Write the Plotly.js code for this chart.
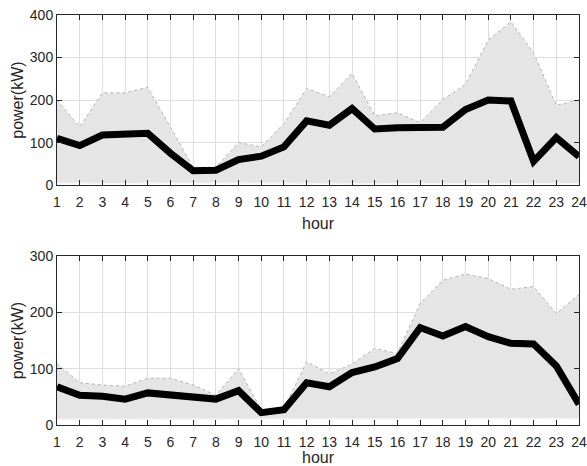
<!DOCTYPE html>
<html><head><meta charset="utf-8">
<script src="https://cdn.plot.ly/plotly-3.0.1.min.js"></script>
<style>html,body{margin:0;padding:0;background:#fff}#c{width:587px;height:466px}</style>
</head><body><div id="c"></div>
<script>
const hours = [1,2,3,4,5,6,7,8,9,10,11,12,13,14,15,16,17,18,19,20,21,22,23,24];
const tickLabels = hours.map(String);
// top panel
const upper1 = [200,137,217,217,230,135,42,42,100,90,145,227,208,263,163,170,147,201,237,341,384,311,188,200];
const lower1 = [5,4,4,4,5,5,5,5,4,4,4,4,4,3,4,4,4,4,5,5,5,5,5,4];
const mean1  = [110,93,118,122,122,75,34,35,60,68,90,151,141,180,132,135,135,136,178,200,198,56,112,67];
// bottom panel
const upper2 = [109,75,71,69,83,83,71,53,100,27,30,112,91,108,136,127,216,257,268,260,241,246,198,232];
const lower2 = [10,10,10,10,11,11,10,10,10,10,10,10,10,10,10,10,10,10,11,12,12,12,11,11];
const mean2  = [68,53,51,46,57,54,49,46,61,22,27,75,68,93,103,118,173,158,175,157,145,144,105,37];

const band = 'rgba(229,229,229,1)';
const upEdge = {color:'#b4b4b4', width:1, dash:'dot'};
const loEdge = {color:'#f4f4f4', width:1.5};
function traces(up, lo, mn, xa, ya){
  return [
    {x:hours, y:lo, xaxis:xa, yaxis:ya, mode:'lines', line:loEdge, hoverinfo:'skip'},
    {x:hours, y:up, xaxis:xa, yaxis:ya, mode:'lines', line:upEdge, fill:'tonexty', fillcolor:band, hoverinfo:'skip'},
    {x:hours, y:mn, xaxis:xa, yaxis:ya, mode:'lines', line:{color:'#000', width:7}}
  ];
}
const data = [...traces(upper1, lower1, mean1, 'x', 'y'), ...traces(upper2, lower2, mean2, 'x2', 'y2')];
const font = {family:'Liberation Sans, Arial, sans-serif', size:14, color:'#262626'};
const tfont = {family:font.family, size:16, color:'#262626'};
function xax(anchor){
  return {anchor:anchor, range:[1,24], tickvals:hours, ticktext:tickLabels, ticks:'inside', ticklen:5,
    tickcolor:'#262626', showline:true, linecolor:'#262626', linewidth:1, mirror:'ticks',
    showgrid:true, gridcolor:'#dedede', zeroline:false, tickfont:font, ticklabelstandoff:4,
    title:{text:'hour', font:tfont, standoff:8}};
}
function yax(anchor, dom, rng, dt){
  return {anchor:anchor, domain:dom, range:rng, dtick:dt, ticks:'inside', ticklen:5,
    tickcolor:'#262626', showline:true, linecolor:'#262626', linewidth:1, mirror:'ticks',
    showgrid:true, gridcolor:'#dedede', zeroline:false, tickfont:font,
    title:{text:'power(kW)', font:tfont, standoff:2}};
}
const layout = {
  width:587, height:466, showlegend:false,
  margin:{l:57, r:8, t:15, b:41},
  paper_bgcolor:'#fff', plot_bgcolor:'#fff', font:font,
  xaxis: xax('y'), yaxis: yax('x', [0.585,1], [0,400], 100),
  xaxis2: xax('y2'), yaxis2: yax('x2', [0,0.412], [0,300], 100)
};
Plotly.newPlot('c', data, layout, {displayModeBar:false, staticPlot:true});
</script></body></html>
